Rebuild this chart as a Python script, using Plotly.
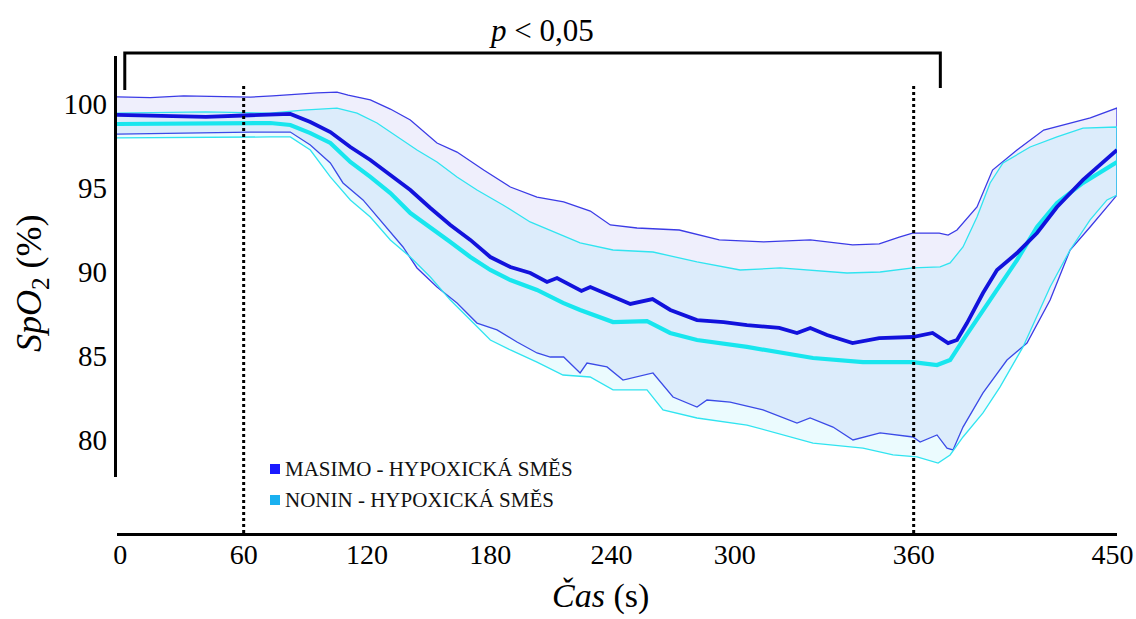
import plotly.graph_objects as go

# ---------------- data ----------------
series_names = ["MASIMO - HYPOXICKÁ SMĚS", "NONIN - HYPOXICKÁ SMĚS"]

masimo_upper_t = [0, 15, 30, 45, 60, 70, 80, 90, 99, 104, 114, 123, 132, 144, 153, 165, 177, 189, 201, 208, 213,
                  222, 234, 253, 271, 291, 312, 331, 343, 352, 358, 370, 374, 378, 387, 394, 405, 417, 429, 438, 450]
masimo_upper_v = [100.39, 100.35, 100.45, 100.40, 100.38, 100.45, 100.55, 100.63, 100.68, 100.50, 100.21, 99.67,
                  99.02, 97.65, 97.11, 96.04, 95.03, 94.43, 94.14, 93.84, 93.60, 92.77, 92.59, 92.47, 91.88, 91.76,
                  91.88, 91.58, 91.64, 92.05, 92.29, 92.29, 92.17, 92.47, 93.84, 96.04, 97.23, 98.42, 98.84, 99.14,
                  99.73]

masimo_mean_t = [0, 20, 40, 60, 70, 78, 87, 96, 105, 114, 123, 132, 141, 150, 159, 168, 177, 186, 193.5, 198, 209,
                 213, 231, 241, 249, 261, 273, 283.5, 298, 306, 312, 319.5, 331, 343, 358, 367, 374, 378, 382.5,
                 389.7, 396, 405, 414, 423, 434.7, 450]
masimo_mean_v = [99.32, 99.26, 99.20, 99.30, 99.32, 99.38, 98.90, 98.30, 97.41, 96.64, 95.74, 94.85, 93.78, 92.77,
                 91.88, 90.86, 90.27, 89.91, 89.38, 89.61, 88.84, 89.08, 88.07, 88.36, 87.71, 87.11, 86.99, 86.81,
                 86.64, 86.34, 86.64, 86.22, 85.74, 86.04, 86.10, 86.34, 85.74, 85.92, 86.93, 88.72, 90.09, 91.10,
                 92.29, 93.84, 95.45, 97.23]

masimo_lower_t = [0, 30, 60, 78, 87, 96, 101.7, 110.7, 119.7, 128.7, 135, 144, 153, 162, 171, 180, 189, 195, 201,
                  208.4, 211.5, 220.5, 227.7, 241.2, 250.2, 261, 265.5, 275.9, 290.7, 306, 311.9, 322.2, 331.2,
                  343.4, 358.2, 361.4, 369, 373.5, 376.2, 380.7, 389.7, 400.5, 409.5, 419.9, 428.9, 437.9, 450]
masimo_lower_v = [98.18, 98.24, 98.30, 98.30, 97.53, 96.46, 95.27, 94.26, 92.89, 91.46, 90.21, 89.08, 88.13, 86.93,
                  86.52, 85.80, 85.15, 84.91, 84.91, 83.96, 84.55, 84.32, 83.54, 83.96, 82.53, 81.93, 82.35, 82.23,
                  81.76, 80.98, 81.28, 80.74, 79.97, 80.39, 80.15, 79.85, 80.27, 79.49, 79.38, 80.74, 82.77, 84.73,
                  85.74, 88.30, 91.28, 92.65, 94.55]

nonin_upper_t = [0, 40, 69, 83.7, 99, 108, 117, 126, 135, 144, 153, 162, 173.7, 185.9, 198, 208.4, 223.2, 241.2,
                 261, 280.4, 298.4, 328.5, 343.4, 358.2, 370.4, 374.9, 380.7, 387, 392.9, 398.7, 410.9, 423, 434.7,
                 450]
nonin_upper_v = [99.43, 99.50, 99.43, 99.61, 99.73, 99.43, 98.84, 98.01, 97.23, 96.52, 95.63, 94.85, 93.96, 92.95,
                 92.29, 91.70, 91.28, 91.16, 90.57, 90.09, 90.21, 89.91, 89.97, 90.21, 90.27, 90.51, 91.46, 93.24,
                 95.27, 96.46, 97.41, 98.01, 98.54, 98.60]

nonin_mean_t = [0, 40, 69, 78, 87, 96, 105, 114, 123, 132, 141, 150, 159, 168, 177, 189, 200.7, 208.4, 223.2, 238.5,
                248.9, 261, 283.5, 298.4, 313.2, 335.7, 358.2, 369, 374.9, 380.7, 389.7, 396, 405, 414, 423, 434.7,
                450]
nonin_mean_v = [98.78, 98.78, 98.84, 98.72, 98.24, 97.65, 96.52, 95.63, 94.67, 93.48, 92.65, 91.76, 90.86, 90.09,
                89.49, 88.90, 88.13, 87.71, 86.99, 87.05, 86.34, 85.92, 85.51, 85.15, 84.85, 84.61, 84.61, 84.43,
                84.73, 85.92, 87.71, 88.90, 90.68, 92.65, 94.08, 95.27, 96.52]

nonin_lower_t = [0, 40, 69, 78, 87, 96, 105, 114, 123, 132, 141, 150, 159, 168, 177, 189, 200.7, 212.9, 223.2,
                 238.5, 245.7, 261, 283.5, 313.2, 335.7, 349.2, 360, 369.5, 374.9, 380.7, 389.7, 397.4, 407.7,
                 419.9, 428.9, 437.9, 445.5, 450]
nonin_lower_v = [97.95, 97.97, 98.01, 98.01, 97.23, 95.63, 94.26, 93.24, 91.88, 90.86, 89.67, 88.30, 87.11, 85.92,
                 85.33, 84.61, 83.84, 83.72, 82.95, 82.95, 81.76, 81.28, 80.86, 79.79, 79.49, 79.08, 78.96, 78.60,
                 79.08, 80.15, 81.58, 83.13, 85.51, 89.08, 91.28, 93.07, 94.26, 94.55]

x_tick_labels = ["0", "60", "120", "180", "240", "300", "360", "450"]
x_tick_positions = [1.5, 57, 112.5, 168, 222.5, 278, 358.5, 448]
y_tick_values = [80, 85, 90, 95, 100]
marker_times = ["60", "360"]          # dotted vertical lines
bracket_span = [3.5, 370.5]           # significance bracket (s)
p_text = "<i>p</i> &lt; 0,05"

# ---------------- styles ----------------
FONT = "Liberation Serif"
MASIMO = "#1212dc"
MASIMO_THIN = "#3b3be6"
MASIMO_FILL = "rgba(80,80,220,0.09)"
NONIN = "#18e6ee"
NONIN_THIN = "#30e4f0"
NONIN_FILL = "rgba(60,220,250,0.10)"
LEG_COLORS = ["#1a1aff", "#1ab0f0"]

fig = go.Figure()

def band(ut, uv, lt, lv, fill, line):
    fig.add_trace(go.Scatter(x=ut + lt[::-1], y=uv + lv[::-1], mode="lines", fill="toself",
                             fillcolor=fill, line=dict(color=line, width=1.3), hoverinfo="skip",
                             showlegend=False))

band(masimo_upper_t, masimo_upper_v, masimo_lower_t, masimo_lower_v, MASIMO_FILL, MASIMO_THIN)
band(nonin_upper_t, nonin_upper_v, nonin_lower_t, nonin_lower_v, NONIN_FILL, NONIN_THIN)

fig.add_trace(go.Scatter(x=nonin_mean_t, y=nonin_mean_v, mode="lines",
                         line=dict(color=NONIN, width=4.2), name=series_names[1], showlegend=False))
fig.add_trace(go.Scatter(x=masimo_mean_t, y=masimo_mean_v, mode="lines",
                         line=dict(color=MASIMO, width=3.8), name=series_names[0], showlegend=False))

# plot geometry
L, R, T, B = 117, 19, 10, 86
W, H = 1136, 619
ph = H - T - B
pw = W - L - R
y_lo = 100 - (533 - 103.5) / 16.8
y_hi = 100 + (103.5 - T) / 16.8

shapes = []
# left axis line (does not reach the x axis)
shapes.append(dict(type="line", xref="paper", yref="paper", x0=-0.0015, x1=-0.0015,
                   y0=(533 - 477) / ph, y1=(533 - 56) / ph, line=dict(color="black", width=3)))
# dotted vertical lines at 60 s and 360 s
for lab in marker_times:
    xv = x_tick_positions[x_tick_labels.index(lab)]
    shapes.append(dict(type="line", xref="x", yref="y", x0=xv, x1=xv, y0=y_lo, y1=101.1,
                       line=dict(color="black", width=3, dash="dot")))
# significance bracket
shapes.append(dict(type="path", xref="x", yref="y",
                   path=f"M {bracket_span[0]},100.8 L {bracket_span[0]},103.0 L {bracket_span[1]},103.0 L {bracket_span[1]},100.92",
                   line=dict(color="black", width=3)))
# legend squares
leg_y = [469, 500]
for c, yy in zip(LEG_COLORS, leg_y):
    shapes.append(dict(type="rect", xref="paper", yref="paper",
                       x0=(270 - L) / pw, x1=(280 - L) / pw,
                       y0=(533 - yy - 5) / ph, y1=(533 - yy + 5) / ph,
                       fillcolor=c, line=dict(width=0)))

annotations = []
annotations.append(dict(x=(541 - L) / pw, y=(533 - 31) / ph, xref="paper", yref="paper", text=p_text,
                        showarrow=False, font=dict(family=FONT, size=31, color="black"),
                        xanchor="center", yanchor="middle"))
for name, yy in zip(series_names, leg_y):
    annotations.append(dict(x=(283 - L) / pw, y=(533 - yy) / ph, xref="paper", yref="paper", text=name,
                            showarrow=False, xanchor="left", yanchor="middle",
                            font=dict(family=FONT, size=21, color="#111111")))
# axis titles
annotations.append(dict(x=(31 - L) / pw, y=(533 - 283) / ph, xref="paper", yref="paper",
                        text="<i>SpO</i><sub>2</sub> (%)", textangle=-90, showarrow=False,
                        xanchor="center", yanchor="middle", font=dict(family=FONT, size=36, color="black")))
annotations.append(dict(x=(600 - L) / pw, y=(533 - 596) / ph, xref="paper", yref="paper",
                        text="<i>Čas</i> (s)", showarrow=False,
                        xanchor="center", yanchor="middle", font=dict(family=FONT, size=34, color="black")))

fig.update_layout(
    width=W, height=H, margin=dict(l=L, r=R, t=T, b=B, autoexpand=False),
    paper_bgcolor="white", plot_bgcolor="white",
    shapes=shapes, annotations=annotations, showlegend=False,
    xaxis=dict(range=[0, 450], tickvals=x_tick_positions, ticktext=x_tick_labels, automargin=False,
               showline=True, linecolor="black", linewidth=3, ticks="", showgrid=False, zeroline=False,
               ticklabelstandoff=-6, tickfont=dict(family=FONT, size=28, color="black")),
    yaxis=dict(range=[y_lo, y_hi], tickvals=y_tick_values, showline=False, ticks="", showgrid=False,
               automargin=False, zeroline=False, ticklabelstandoff=9,
               tickfont=dict(family=FONT, size=29, color="black")),
)

fig.write_html("out.html")
